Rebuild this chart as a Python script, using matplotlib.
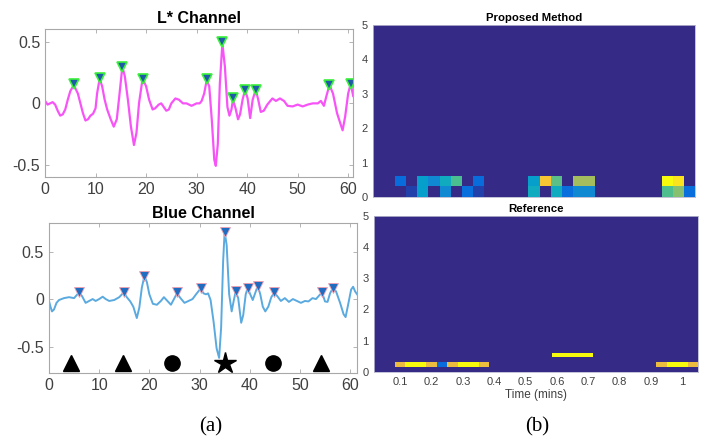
import numpy as np
import matplotlib.pyplot as plt
from matplotlib.colors import LinearSegmentedColormap

# ----------------------------
# Data
# ----------------------------

# L* channel signal (time in s, value)
l_t = [0, 0.5, 1, 1.5, 2, 2.5, 3, 3.5, 4, 4.5, 5, 5.7, 6.5, 7, 7.5, 8, 8.5, 9, 9.5, 10,
       10.3, 10.8, 11.3, 11.8, 12.3, 13, 13.6, 14.2, 14.7, 15.3, 15.8, 16.4, 17, 17.6, 18.1,
       18.6, 19.3, 20, 20.6, 21.3, 21.8, 22.5, 23, 23.5, 24, 24.5, 25, 25.8, 26.5, 27.3, 28,
       29, 30, 30.6, 31, 31.5, 32, 32.5, 33, 33.5, 33.8, 34.2, 34.6, 35.1, 35.6, 36.1, 36.5,
       36.9, 37.2, 37.7, 38.2, 38.6, 39.1, 39.6, 40.1, 40.6, 41.1, 41.7, 42.2, 42.7, 43.3,
       44, 45, 45.7, 46.5, 47.3, 48, 49, 50, 51, 52, 53, 54, 54.6, 55.2, 55.7, 56.3, 57,
       57.8, 58.5, 58.9, 59.4, 60, 60.5, 61]
l_v = [0.02, -0.01, 0.0, 0.01, -0.01, -0.06, -0.10, -0.09, -0.05, 0.03, 0.10, 0.15, 0.08, 0.0,
       -0.08, -0.14, -0.13, -0.10, -0.085, -0.04, 0.08, 0.20, 0.14, 0.03, -0.05, -0.13, -0.19,
       -0.13, 0.06, 0.30, 0.22, 0.03, -0.19, -0.34, -0.24, 0.0, 0.20, 0.14, 0.03, -0.05, -0.04,
       -0.01, 0.0, -0.03, -0.06, -0.05, 0.0, 0.04, 0.03, 0.0, 0.0, -0.02, 0.0, 0.0, 0.02, 0.08,
       0.19, 0.14, -0.13, -0.46, -0.51, -0.33, 0.16, 0.49, 0.30, -0.03, -0.10, -0.05, 0.03,
       -0.04, -0.13, -0.09, 0.03, 0.11, 0.04, -0.12, 0.03, 0.11, 0.03, -0.07, -0.06, -0.01,
       0.04, 0.02, 0.04, 0.02, -0.02, -0.025, -0.01, -0.025, -0.01, 0.0, 0.0, 0.02, -0.02,
       0.06, 0.15, 0.08, -0.08, -0.17, -0.22, -0.11, 0.08, 0.16, 0.06]
l_peak_t = [5.7, 10.8, 15.3, 19.3, 32, 35.1, 37.2, 39.6, 41.7, 56.3, 60.5]
l_peak_v = [0.16, 0.21, 0.30, 0.20, 0.20, 0.50, 0.04, 0.11, 0.11, 0.15, 0.16]

# Blue channel signal
b_t = [0, 0.3, 0.6, 1, 1.5, 2, 3, 4, 5, 5.5, 6, 6.6, 7.3, 8, 8.7, 9.3, 10, 10.7, 11.3, 12,
       13, 14, 14.9, 15.5, 16.2, 16.8, 17.5, 18, 18.5, 19, 19.5, 20, 20.7, 21.5, 22.3, 22.9,
       23.6, 24.3, 24.8, 25.5, 26.2, 27, 27.8, 28.6, 29.3, 30.2, 30.8, 31.3, 31.7, 32.2, 32.8,
       33.4, 33.9, 34.3, 34.7, 35.0, 35.4, 35.9, 36.4, 36.8, 37.2, 37.7, 38.3, 38.7, 39.2,
       39.6, 40.1, 40.6, 41, 41.6, 42.1, 42.6, 43.1, 43.7, 44.3, 44.9, 45.5, 46.2, 47, 47.8,
       48.6, 49.4, 50.2, 51, 51.7, 52.5, 53.2, 53.7, 54.4, 55, 55.5, 56, 56.6, 57.2, 58, 58.7,
       59.1, 59.6, 60.2, 60.6, 61, 61.4]
b_v = [-0.02, -0.08, -0.13, -0.11, -0.04, -0.01, 0.01, 0.02, 0.01, 0.04, 0.07, 0.03, -0.04,
       -0.02, 0.0, -0.02, 0.0, 0.025, 0.0, -0.02, -0.01, 0.02, 0.07, 0.02, -0.025, -0.08, -0.2,
       -0.09, 0.12, 0.24, 0.18, 0.05, -0.05, -0.06, -0.02, 0.02, -0.02, -0.06, -0.01, 0.06,
       0.01, -0.04, -0.02, 0.0, 0.05, 0.11, 0.06, 0.05, 0.06, -0.01, -0.24, -0.52, -0.62,
       -0.30, 0.40, 0.71, 0.57, 0.05, -0.13, -0.02, 0.08, 0.01, -0.25, -0.17, 0.05, 0.12,
       0.05, -0.01, 0.05, 0.14, 0.05, -0.08, -0.13, -0.08, 0.02, 0.07, 0.03, -0.02, 0.01,
       -0.03, 0.0, -0.02, -0.04, -0.02, -0.025, 0.01, 0.0, 0.03, 0.07, -0.025, -0.03, 0.06,
       0.12, 0.08, -0.04, -0.16, -0.19, -0.06, 0.10, 0.13, 0.08, 0.05]
b_peak_t = [6, 14.9, 19, 25.5, 30.2, 35.0, 37.2, 39.6, 41.6, 44.9, 54.4, 56.6]
b_peak_v = [0.07, 0.07, 0.24, 0.07, 0.12, 0.71, 0.08, 0.12, 0.14, 0.07, 0.07, 0.12]

# event symbols under the blue channel
tri_t = [4.3, 14.8, 54.2]
circ_t = [24.6, 44.7]
star_t = [35.1]
event_y = -0.67

# heatmaps: only the lowest rows carry values, the rest is zero
prop_row0 = [0, 0, 0, 0.04, 0.30, 0, 0.22, 0, 0.14, 0.04, 0, 0, 0, 0, 0.36, 0, 0.36, 0.14,
             0.22, 0.22, 0, 0, 0, 0, 0, 0, 0.53, 0.62, 0.14]
prop_row1 = [0, 0, 0.13, 0, 0.30, 0.22, 0.36, 0.52, 0, 0.13, 0, 0, 0, 0, 0.30, 0.88, 0.55, 0,
             0.67, 0.67, 0, 0, 0, 0, 0, 0, 1.0, 0.95, 0]
ref_row1 = [0, 0, 0.82, 1, 1, 0.82, 0.13, 0.82, 1, 1, 0.82, 0, 0, 0, 0, 0, 0, 0, 0, 0, 0,
            0, 0, 0, 0, 0, 0, 0.82, 1, 1, 0.82]
ref_row3 = [0] * 17 + [1, 1, 1, 1] + [0] * 10
time_ticks = [0.1, 0.2, 0.3, 0.4, 0.5, 0.6, 0.7, 0.8, 0.9, 1]
time_labels = ["0.1", "0.2", "0.3", "0.4", "0.5", "0.6", "0.7", "0.8", "0.9", "1"]

# ----------------------------
# parula-like colormap
# ----------------------------
parula = LinearSegmentedColormap.from_list("parula", [
    (0.0, (0.208, 0.166, 0.529)), (0.1, (0.012, 0.388, 0.882)),
    (0.2, (0.078, 0.518, 0.832)), (0.3, (0.024, 0.628, 0.798)),
    (0.4, (0.094, 0.703, 0.714)), (0.5, (0.240, 0.745, 0.600)),
    (0.6, (0.485, 0.757, 0.457)), (0.7, (0.712, 0.738, 0.339)),
    (0.8, (0.904, 0.727, 0.254)), (0.9, (0.996, 0.790, 0.193)),
    (1.0, (0.976, 0.983, 0.054))])

plt.rcParams['font.family'] = ['Liberation Sans', 'DejaVu Sans']
fig = plt.figure(figsize=(7.15, 4.41), dpi=100)
tick_col = '#404040'


def style_line_axes(ax):
    for s in ax.spines.values():
        s.set_color('#a8a8a8')
        s.set_linewidth(0.8)
    ax.tick_params(direction='in', length=3, width=0.6, color='#a8a8a8',
                   labelcolor=tick_col, labelsize=11.5, top=True, right=True)
    ax.set_xticks([0, 10, 20, 30, 40, 50, 60])
    ax.set_yticks([-0.5, 0, 0.5])
    ax.set_yticklabels(["-0.5", "0", "0.5"])


# ----------------------------
# (a) L* channel
# ----------------------------
ax1 = fig.add_axes([0.063, 0.599, 0.431, 0.336])
ax1.plot(l_t, l_v, color='#f754f7', lw=1.6)
ax1.plot(l_peak_t, l_peak_v, 'v', ms=7, mfc='#1f5aa8', mec='#3cf03c', mew=1.2)
ax1.set_xlim(0, 61)
ax1.set_ylim(-0.6, 0.61)
style_line_axes(ax1)
ax1.set_title("L* Channel", fontsize=11.5, fontweight='bold', pad=4)

# ----------------------------
# (a) Blue channel
# ----------------------------
ax2 = fig.add_axes([0.0685, 0.154, 0.431, 0.340])
ax2.plot(b_t, b_v, color='#5aaae0', lw=1.4)
ax2.plot(b_peak_t, b_peak_v, 'v', ms=7, mfc='#1f6cc0', mec='#f4a0b0', mew=0.6)
ax2.plot(tri_t, [event_y] * len(tri_t), '^', ms=11, color='black')
ax2.plot(circ_t, [event_y] * len(circ_t), 'o', ms=11, color='black')
ax2.plot(star_t, [event_y] * len(star_t), '*', ms=16, color='black')
ax2.set_xlim(0, 61.4)
ax2.set_ylim(-0.78, 0.8)
style_line_axes(ax2)
ax2.set_title("Blue Channel", fontsize=11.5, fontweight='bold', pad=4)

# ----------------------------
# (b) heatmaps
# ----------------------------
prop = np.zeros((16, len(prop_row0)))
prop[0] = prop_row0
prop[1] = prop_row1
ref = np.zeros((32, len(ref_row1)))
ref[1] = ref_row1
ref[3] = ref_row3

ax3 = fig.add_axes([0.5217, 0.5533, 0.4503, 0.39])
ax3.imshow(prop, origin='lower', extent=[1 / 60, 1.05, 0, 5], aspect='auto',
           cmap=parula, vmin=0, vmax=1, interpolation='nearest')
ax3.set_xticks([])
ax3.set_yticks([0, 1, 2, 3, 4, 5])
ax3.set_title("Proposed Method", fontsize=8.2, fontweight='bold', pad=3)

ax4 = fig.add_axes([0.5231, 0.157, 0.4531, 0.353])
ax4.imshow(ref, origin='lower', extent=[1 / 60, 1.05, 0, 5], aspect='auto',
           cmap=parula, vmin=0, vmax=1, interpolation='nearest')
ax4.set_xticks(time_ticks)
ax4.set_xticklabels(time_labels)
ax4.set_yticks([0, 1, 2, 3, 4, 5])
ax4.set_xlabel("Time (mins)", fontsize=8.5, color=tick_col, labelpad=1)
ax4.set_title("Reference", fontsize=8.2, fontweight='bold', pad=3)

for ax in (ax3, ax4):
    for s in ax.spines.values():
        s.set_color('#b8b8d0')
        s.set_linewidth(0.6)
    ax.tick_params(length=0, labelsize=8, labelcolor=tick_col, pad=4)

# panel letters
fig.text(0.295, 0.032, "(a)", fontsize=15, family='Liberation Serif', ha='center', va='center')
fig.text(0.751, 0.032, "(b)", fontsize=15, family='Liberation Serif', ha='center', va='center')

plt.savefig("out.png", dpi=100)
plt.close()
